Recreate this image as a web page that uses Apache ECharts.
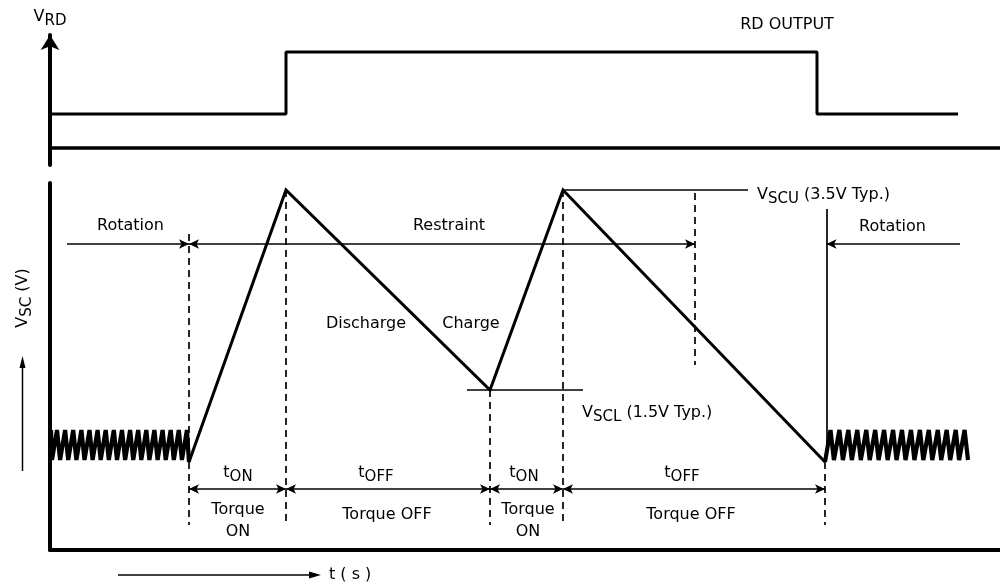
<!DOCTYPE html>
<html><head><meta charset="utf-8">
<script src="https://cdn.jsdelivr.net/npm/echarts@6/dist/echarts.min.js"></script>
<style>html,body{margin:0;padding:0;background:#fff}#c{width:1000px;height:586px}</style>
</head><body><div id="c"></div>
<script>
// ---- schematic data (time in arbitrary units, V_SC in volts) ----
const VSCU = 3.5;             // upper threshold
const VSCL = 1.5;             // lower threshold
const phaseTimes = [13.9, 23.6, 44.0, 51.3, 77.5];   // tON / tOFF boundaries
const phaseLabels = ['ON', 'OFF', 'ON', 'OFF'];

// RD output (top panel)
const rdTimes  = [0, 23.6, 23.6, 76.7, 76.7, 90.8];
const rdLevels = [0.34, 0.34, 0.96, 0.96, 0.34, 0.34];

// V_SC ramp waveform during restraint
const rampTimes  = [13.9, 23.6, 44.0, 51.3, 77.5];
const rampValues = [0.78, 3.5, 1.5, 3.5, 0.78];

// small oscillation during rotation (left and right)
const zigLeft = [[0.1,1.1],[0.2,0.8],[0.7,1.1],[1.01,0.8],[1.51,1.1],[1.82,0.8],[2.32,1.1],[2.64,0.8],
  [3.14,1.1],[3.45,0.8],[3.95,1.1],[4.26,0.8],[4.76,1.1],[5.07,0.8],[5.57,1.1],[5.88,0.8],
  [6.38,1.1],[6.70,0.8],[7.20,1.1],[7.51,0.8],[8.01,1.1],[8.32,0.8],[8.82,1.1],[9.13,0.8],
  [9.63,1.1],[9.94,0.8],[10.44,1.1],[10.76,0.8],[11.26,1.1],[11.57,0.8],[12.07,1.1],[12.38,0.8],
  [12.88,1.1],[13.19,0.8],[13.69,1.1],[13.9,0.78]];
const zigRight = [[77.5,0.78],[78.05,1.1],[78.39,0.8],[78.94,1.1],[79.29,0.8],[79.84,1.1],[80.18,0.8],[80.73,1.1],
  [81.08,0.8],[81.63,1.1],[81.97,0.8],[82.52,1.1],[82.86,0.8],[83.41,1.1],[83.76,0.8],[84.31,1.1],
  [84.65,0.8],[85.2,1.1],[85.55,0.8],[86.1,1.1],[86.44,0.8],[86.99,1.1],[87.33,0.8],[87.88,1.1],
  [88.23,0.8],[88.78,1.1],[89.12,0.8],[89.67,1.1],[90.02,0.8],[90.57,1.1],[90.91,0.8],[91.46,1.1],[91.8,0.8]];

// ---- chart ----
const FONT = 'DejaVu Sans';
const K = '#000';
const rich = {
  m: {fontFamily: FONT, fontSize: 16, color: K, lineHeight: 16, verticalAlign: 'top'},
  s: {fontFamily: FONT, fontSize: 15, color: K, lineHeight: 25, verticalAlign: 'middle'}
};
const rd = rdTimes.map((t, i) => [t, rdLevels[i]]);
const ramp = rampTimes.map((t, i) => [t, rampValues[i]]);

function seg(a, b, extra) { return [Object.assign({coord: a}, extra || {}), {coord: b}]; }
function txt(x, y, text, left) {
  const l = {show: true, formatter: text, color: K, opacity: 1, position: left ? 'right' : 'inside', distance: 0};
  if (left) l.align = 'left';
  return {value: [x, y], label: l};
}
const axisOff = {axisTick: {show: false}, axisLabel: {show: false}, splitLine: {show: false}};
const labelBase = {fontFamily: FONT, fontSize: 16, color: K, opacity: 1, rich: rich, lineHeight: 22, align: 'center'};

const arrowsBoth = [];
for (let i = 0; i < phaseTimes.length - 1; i++) arrowsBoth.push(seg([phaseTimes[i], 0.51], [phaseTimes[i + 1], 0.51]));
arrowsBoth.push(seg([phaseTimes[0], 2.96], [64.5, 2.96]));

const dashed = phaseTimes.map((t, i) => seg([t, [3.06, VSCU, VSCL, VSCU, 0.78][i]], [t, 0.15]));
dashed.push(seg([64.5, 3.47], [64.5, 1.75]));

const option = {
  animation: false,
  grid: [
    {left: 50, width: 950, top: 35, height: 130},
    {left: 50, width: 950, top: 183, height: 367}
  ],
  xAxis: [
    Object.assign({type: 'value', gridIndex: 0, min: 0, max: 95,
      axisLine: {onZero: true, lineStyle: {color: K, width: 3.5}}}, axisOff),
    Object.assign({type: 'value', gridIndex: 1, min: 0, max: 95,
      axisLine: {onZero: false, lineStyle: {color: K, width: 4}}}, axisOff)
  ],
  yAxis: [
    Object.assign({type: 'value', gridIndex: 0, min: -0.17, max: 1.13,
      name: '{m|V}{s|RD}', nameLocation: 'end', nameGap: 1,
      nameTextStyle: {rich: rich, align: 'center'},
      axisLine: {onZero: false, symbol: ['none', 'arrow'], symbolSize: [14, 15], lineStyle: {color: K, width: 4}}}, axisOff),
    Object.assign({type: 'value', gridIndex: 1, min: -0.1, max: 3.57,
      axisLine: {onZero: false, lineStyle: {color: K, width: 4}}}, axisOff)
  ],
  series: [
    {type: 'line', xAxisIndex: 0, yAxisIndex: 0, data: rd, showSymbol: false, silent: true, clip: false,
      lineStyle: {color: K, width: 3}},
    {type: 'line', xAxisIndex: 1, yAxisIndex: 1, data: ramp, showSymbol: false, silent: true, clip: false,
      lineStyle: {color: K, width: 3, join: 'miter'}},
    {type: 'line', xAxisIndex: 1, yAxisIndex: 1, data: zigLeft, showSymbol: false, silent: true, clip: false,
      lineStyle: {color: K, width: 4.2, join: 'bevel'}},
    {type: 'line', xAxisIndex: 1, yAxisIndex: 1, data: zigRight, showSymbol: false, silent: true, clip: false,
      lineStyle: {color: K, width: 4.2, join: 'bevel'}},
    {type: 'line', xAxisIndex: 1, yAxisIndex: 1, data: [], silent: true,
      markLine: {silent: true, symbol: ['none', 'none'], label: {show: false},
        lineStyle: {color: K, width: 1.7, type: [7, 5]}, data: dashed}},
    {type: 'line', xAxisIndex: 1, yAxisIndex: 1, data: [], silent: true,
      markLine: {silent: true, symbol: ['none', 'none'], label: {show: false},
        lineStyle: {color: K, width: 1.7, type: 'solid'},
        data: [seg([51.3, VSCU], [69.8, VSCU]), seg([41.7, VSCL], [53.3, VSCL]), seg([77.65, 3.31], [77.65, 0.9])]}},
    {type: 'line', xAxisIndex: 1, yAxisIndex: 1, data: [], silent: true,
      markLine: {silent: true, symbol: ['arrow', 'arrow'], symbolSize: [7, 10], label: {show: false},
        lineStyle: {color: K, width: 1.6, type: 'solid'}, data: arrowsBoth}},
    {type: 'line', xAxisIndex: 1, yAxisIndex: 1, data: [], silent: true,
      markLine: {silent: true, symbol: ['none', 'arrow'], symbolSize: [7, 10], label: {show: false},
        lineStyle: {color: K, width: 1.6, type: 'solid'},
        data: [seg([1.7, 2.96], [phaseTimes[0], 2.96]), seg([91.0, 2.96], [77.65, 2.96])]}},
    {type: 'scatter', xAxisIndex: 1, yAxisIndex: 1, symbolSize: 0, silent: true, clip: false,
      itemStyle: {opacity: 1}, label: labelBase,
      data: [
        txt(8.05, 3.14, 'Rotation'),
        txt(39.9, 3.14, 'Restraint'),
        txt(84.25, 3.13, 'Rotation'),
        txt(31.6, 2.16, 'Discharge'),
        txt(42.1, 2.16, 'Charge'),
        txt(70.7, 3.41, '{m|V}{s|SCU}{m| (3.5V Typ.)}', true),
        txt(53.2, 1.23, '{m|V}{s|SCL}{m| (1.5V Typ.)}', true),
        txt(18.8, 0.63, '{m|t}{s|' + phaseLabels[0] + '}'),
        txt(32.6, 0.63, '{m|t}{s|' + phaseLabels[1] + '}'),
        txt(47.4, 0.63, '{m|t}{s|' + phaseLabels[2] + '}'),
        txt(63.2, 0.63, '{m|t}{s|' + phaseLabels[3] + '}'),
        txt(18.8, 0.19, 'Torque\nON'),
        txt(33.7, 0.25, 'Torque OFF'),
        txt(47.8, 0.19, 'Torque\nON'),
        txt(64.1, 0.25, 'Torque OFF')
      ]},
    {type: 'scatter', xAxisIndex: 0, yAxisIndex: 0, symbolSize: 0, silent: true, clip: false,
      itemStyle: {opacity: 1}, label: labelBase, data: [txt(73.7, 1.23, 'RD OUTPUT')]}
  ],
  graphic: [
    {type: 'text', x: 27, y: 298, rotation: Math.PI / 2, silent: true,
      style: {text: '{m|V}{s|SC}{m| (V)}', rich: rich, align: 'center', verticalAlign: 'middle'}},
    {type: 'line', silent: true, shape: {x1: 22.5, y1: 471, x2: 22.5, y2: 366}, style: {stroke: K, lineWidth: 1.5}},
    {type: 'polygon', silent: true, shape: {points: [[22.5, 356], [19.5, 368], [25.5, 368]]}, style: {fill: K}},
    {type: 'line', silent: true, shape: {x1: 118, y1: 575, x2: 312, y2: 575}, style: {stroke: K, lineWidth: 1.5}},
    {type: 'polygon', silent: true, shape: {points: [[321, 575], [309, 571.5], [309, 578.5]]}, style: {fill: K}},
    {type: 'text', x: 329, y: 575, silent: true,
      style: {text: 't ( s )', fontFamily: FONT, fontSize: 16, fill: K, align: 'left', verticalAlign: 'middle'}}
  ]
};
const chart = echarts.init(document.getElementById('c'), null, {renderer: 'canvas'});
chart.setOption(option);
</script></body></html>
